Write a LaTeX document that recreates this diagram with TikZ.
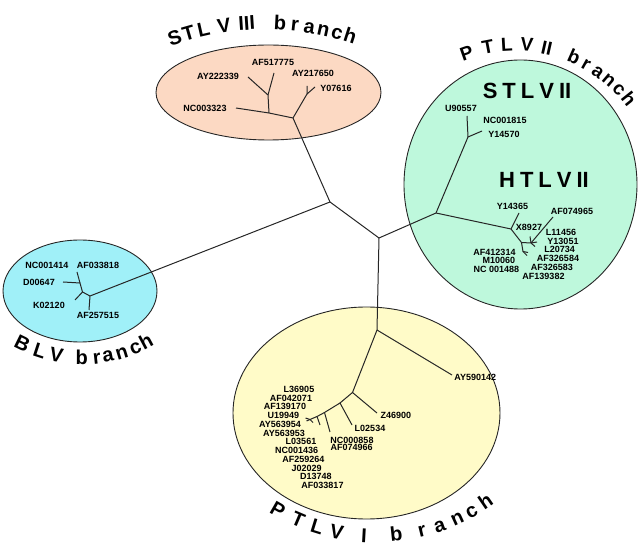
\documentclass[tikz,border=0pt]{standalone}
\usepackage{fontspec}
\setmainfont{Liberation Sans}
\usetikzlibrary{calc}
\definecolor{stlvthree}{RGB}{252,217,195}
\definecolor{ptlvtwo}{RGB}{190,248,220}
\definecolor{blvc}{RGB}{160,240,248}
\definecolor{ptlvone}{RGB}{255,251,200}
\begin{document}
\begin{tikzpicture}[x=1pt,y=-1pt,
  grp/.style={draw=black!85, line width=0.9pt},
  br/.style={draw=black!85, line width=1pt},
  lbl/.style={font=\fontsize{9}{10}\selectfont\bfseries, inner sep=0pt},
  ttl/.style={font=\fontsize{20}{24}\selectfont\bfseries, inner sep=0pt},
  ttlb/.style={font=\fontsize{19}{23}\selectfont\bfseries, inner sep=0pt},
  inttl/.style={font=\fontsize{22}{26}\selectfont\bfseries, inner sep=0pt},
]
\useasboundingbox (0,0) rectangle (641,548);
% group backgrounds
\path[grp, fill=stlvthree] (268.5,92.5) ellipse [x radius=112.5, y radius=47.5];
\path[grp, fill=ptlvtwo] (520.5,184.5) ellipse [x radius=116.5, y radius=124.5];
\path[grp, fill=blvc] (80,291) ellipse [x radius=77, y radius=51];
\path[grp, fill=ptlvone] (366.5,413) ellipse [x radius=133.5, y radius=106];

% tree coordinates
\coordinate (A) at (330,202);
\coordinate (B) at (379,238);
\coordinate (T) at (293,118);
\coordinate (J1) at (90,296);
\coordinate (H0) at (436,213);
\coordinate (P0) at (377,330);
% top
\coordinate (N1) at (269,113);
\coordinate (t1) at (236,108);
\coordinate (N2) at (268,95);
\coordinate (t2) at (248,77);
\coordinate (t3) at (274,73);
\coordinate (N3) at (307,94);
\coordinate (t4) at (307,86);
\coordinate (t5) at (315,87);
% right
\coordinate (S1) at (468,137);
\coordinate (r1) at (467,116);
\coordinate (r2) at (482,131);
\coordinate (H1) at (511,229);
\coordinate (r3) at (519,213);
\coordinate (H2) at (521.5,242.5);
\coordinate (H3) at (531,243);
\coordinate (r4) at (530,236.5);
\coordinate (r5) at (553,217);
\coordinate (r6) at (537,242);
\coordinate (r7) at (535,246.5);
\coordinate (H4) at (523,251.5);
\coordinate (r8) at (528,252.5);
\coordinate (r9) at (527,255.5);
% left
\coordinate (l1) at (89,310);
\coordinate (J2) at (82.5,292);
\coordinate (l2) at (75,300);
\coordinate (J3) at (80,283);
\coordinate (l3) at (63,282);
\coordinate (l4) at (77,272);
% bottom
\coordinate (b1) at (452,375);
\coordinate (P1) at (352.5,392.5);
\coordinate (b2) at (377,413);
\coordinate (P2) at (340,403);
\coordinate (b3) at (352,425);
\coordinate (P3) at (324.5,412.5);
\coordinate (b4) at (330,432);
\coordinate (P4) at (317,416.5);
\coordinate (b5) at (320,425);
\coordinate (P5) at (310,419.5);
\coordinate (b6) at (305.5,418);
\coordinate (b7) at (306.5,421);
\coordinate (b8) at (313,422.5);

% branches
\draw[br] (T) -- (A) -- (B);
\draw[br] (A) -- (J1);
\draw[br] (B) -- (H0);
\draw[br] (B) -- (P0);
\draw[br] (t1) -- (N1) -- (T);
\draw[br] (N1) -- (N2) -- (t2);
\draw[br] (N2) -- (t3);
\draw[br] (T) -- (N3) -- (t4);
\draw[br] (N3) -- (t5);
\draw[br] (H0) -- (S1) -- (r1);
\draw[br] (S1) -- (r2);
\draw[br] (H0) -- (H1) -- (r3);
\draw[br] (H1) -- (H2) -- (H3) -- (r4);
\draw[br] (H3) -- (r5);
\draw[br] (H3) -- (r6);
\draw[br] (H3) -- (r7);
\draw[br] (H2) -- (H4) -- (r8);
\draw[br] (H4) -- (r9);
\draw[br] (J1) -- (l1);
\draw[br] (J1) -- (J2) -- (l2);
\draw[br] (J2) -- (J3) -- (l3);
\draw[br] (J3) -- (l4);
\draw[br] (P0) -- (b1);
\draw[br] (P0) -- (P1) -- (b2);
\draw[br] (P1) -- (P2) -- (b3);
\draw[br] (P2) -- (P3) -- (b4);
\draw[br] (P3) -- (P4) -- (b5);
\draw[br] (P4) -- (P5) -- (b6);
\draw[br] (P5) -- (b7);
\draw[br] (P5) -- (b8);

% labels top
\node[lbl] (AF517775) at (273,62) {AF517775};
\node[lbl] (AY222339) at (218,76) {AY222339};
\node[lbl] (AY217650) at (313,73) {AY217650};
\node[lbl] (Y07616) at (336,88) {Y07616};
\node[lbl] (NC003323) at (205,108) {NC003323};
% labels right
\node[lbl] (U90557) at (461,108) {U90557};
\node[lbl] (NC001815) at (505,120) {NC001815};
\node[lbl] (Y14570) at (504,134) {Y14570};
\node[lbl] (Y14365) at (512.5,206.7) {Y14365};
\node[lbl] (AF074965) at (572,211.7) {AF074965};
\node[lbl] (X8927) at (529,227.7) {X8927};
\node[lbl] (L11456) at (561,232.3) {L11456};
\node[lbl] (Y13051) at (563,241) {Y13051};
\node[lbl] (L20734) at (559.7,249.3) {L20734};
\node[lbl] (AF326584) at (558,258.7) {AF326584};
\node[lbl] (AF326583) at (551.8,267.3) {AF326583};
\node[lbl] (AF139382) at (543.5,276) {AF139382};
\node[lbl] (AF412314) at (494.5,252) {AF412314};
\node[lbl] (M10060) at (498.8,260.7) {M10060};
\node[lbl] (NC001488) at (496.3,269.3) {NC 001488};
% labels left
\node[lbl] (NC001414) at (47,265) {NC001414};
\node[lbl] (AF033818) at (98,265) {AF033818};
\node[lbl] (D00647) at (39,282) {D00647};
\node[lbl] (K02120) at (49,305) {K02120};
\node[lbl] (AF257515) at (98,315) {AF257515};
% labels bottom
\node[lbl] (L36905) at (299,389.3) {L36905};
\node[lbl] (AF042071) at (291,398.3) {AF042071};
\node[lbl] (AF139170) at (285,406.7) {AF139170};
\node[lbl] (U19949) at (283.3,415.7) {U19949};
\node[lbl] (AY563954) at (280,424) {AY563954};
\node[lbl] (AY563953) at (284,433.3) {AY563953};
\node[lbl] (L03561) at (301,441.7) {L03561};
\node[lbl] (NC001436) at (296.7,450) {NC001436};
\node[lbl] (AF259264) at (303.3,459.3) {AF259264};
\node[lbl] (J02029) at (306.7,468.3) {J02029};
\node[lbl] (D13748) at (315.8,476.7) {D13748};
\node[lbl] (AF033817) at (322.5,485) {AF033817};
\node[lbl] (L02534) at (370,428.3) {L02534};
\node[lbl] (NC000858) at (352,440) {NC000858};
\node[lbl] (AF074966) at (351.7,447.3) {AF074966};
\node[lbl] (Z46900) at (395.8,415.7) {Z46900};
\node[lbl] (AY590142) at (475.3,377.3) {AY590142};

% inner titles
\node[inttl] (stlv2) at (527,91) {S\hspace{5pt}T\hspace{5pt}L\hspace{5pt}V\hspace{5pt}II};
\node[inttl] (htlv2) at (544,180) {H\hspace{5pt}T\hspace{5pt}L\hspace{5pt}V\hspace{5pt}II};

% curved branch titles (top: letters face outward)
\foreach \ch/\ang in {S/-109.0, T/-106.0, L/-102.8, V/-98.5, III/-93.8, b/-86.9, r/-83.8, a/-80.8, n/-77.8, c/-74.9, h/-72.1}
  \node[ttl, anchor=base, rotate={-(\ang)-90}] at ($(265,300)+(\ang:270.5)$) {\ch};
\foreach \ch/\ang in {P/-109.4, T/-100.8, L/-93.2, V/-85.3, II/-77.4, b/-66.0, r/-60.5, a/-55.0, n/-49.5, c/-44.0, h/-38.5}
  \node[ttlb, anchor=base, rotate={-(\ang)-90}] at ($(515,190)+(\ang:139)$) {\ch};
% bottom: letters face the centre
\foreach \ch/\ang in {B/116.1, L/108.1, V/100.8, b/90.1, r/83.8, a/79.0, n/73.1, c/67.0, h/61.8}
  \node[ttl, anchor=base, rotate={90-(\ang)}] at ($(82,222)+(\ang:142.5)$) {\ch};
\foreach \ch/\ang in {P/119.8, T/113.1, L/107.2, V/101.3, I/93.2, b/83.8, r/76.2, a/70.8, n/65.3, c/60.6, h/55.6}
  \node[ttl, anchor=base, rotate={90-(\ang)}] at ($(375,340)+(\ang:202.5)$) {\ch};
\end{tikzpicture}
\end{document}
